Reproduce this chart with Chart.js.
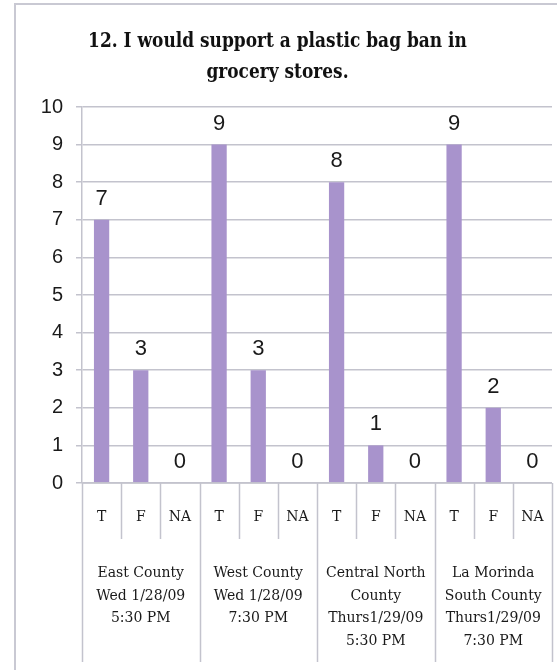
<!DOCTYPE html>
<html>
<head>
<meta charset="utf-8">
<script src="https://cdn.jsdelivr.net/npm/chart.js@4"></script>
<style>
html,body{margin:0;padding:0;background:#fff;}
#wrap{position:relative;width:557px;height:670px;}
</style>
</head>
<body>
<div id="wrap"><canvas id="c" width="557" height="670"></canvas></div>
<script>
const titleLines = ["12. I would support a plastic bag ban in", "grocery stores."];
const categories = ["T","F","NA","T","F","NA","T","F","NA","T","F","NA"];
const values = [7,3,0,9,3,0,8,1,0,9,2,0];
const groups = [
  ["East County","Wed 1/28/09","5:30 PM"],
  ["West County","Wed 1/28/09","7:30 PM"],
  ["Central North","County","Thurs1/29/09","5:30 PM"],
  ["La Morinda","South County","Thurs1/29/09","7:30 PM"]
];
const groupSize = 3;
const yTicks = [0,1,2,3,4,5,6,7,8,9,10];

const lineColor = '#c3c3cd';
const serif = '"DejaVu Serif", serif';
const sans = '"Liberation Sans", Arial, sans-serif';

const decor = {
  id: 'decor',
  beforeDraw(chart) {
    const ctx = chart.ctx;
    ctx.save();
    ctx.fillStyle = '#fff';
    ctx.fillRect(0,0,chart.width,chart.height);
    ctx.strokeStyle = '#c9c9d3';
    ctx.lineWidth = 2;
    ctx.beginPath();
    ctx.moveTo(15, chart.height);
    ctx.lineTo(15, 4);
    ctx.lineTo(chart.width, 4);
    ctx.stroke();
    ctx.fillStyle = '#111';
    ctx.font = 'bold 17px ' + serif;
    ctx.textAlign = 'center';
    ctx.textBaseline = 'alphabetic';
    const cx = chart.width / 2 - 1;
    titleLines.forEach((t, i) => {
      ctx.save();
      ctx.translate(cx, 47 + i * 31);
      ctx.scale(1, 1.15);
      ctx.fillText(t, 0, 0);
      ctx.restore();
    });
    ctx.restore();
  },
  afterDraw(chart) {
    const ctx = chart.ctx;
    const x = chart.scales.x;
    const area = chart.chartArea;
    const n = categories.length;
    const edge = i => {
      if (i === 0) return area.left;
      if (i === n) return area.right;
      return (x.getPixelForValue(i - 1) + x.getPixelForValue(i)) / 2;
    };
    ctx.save();
    ctx.strokeStyle = lineColor;
    ctx.lineWidth = 1.5;
    ctx.beginPath();
    ctx.moveTo(area.left, area.bottom);
    ctx.lineTo(area.right, area.bottom);
    ctx.stroke();
    for (let i = 0; i <= n; i++) {
      const px = Math.round(edge(i)) + 0.5;
      const isGroup = i % groupSize === 0;
      ctx.beginPath();
      ctx.moveTo(px, area.bottom);
      ctx.lineTo(px, isGroup ? area.bottom + 179 : area.bottom + 56);
      ctx.stroke();
    }
    ctx.fillStyle = '#1a1a1a';
    ctx.textAlign = 'center';
    ctx.textBaseline = 'alphabetic';
    ctx.font = '14px ' + serif;
    categories.forEach((c, i) => {
      ctx.fillText(c, x.getPixelForValue(i), area.bottom + 38);
    });
    groups.forEach((g, gi) => {
      const cx = (edge(gi * groupSize) + edge((gi + 1) * groupSize)) / 2;
      g.forEach((line, li) => {
        ctx.fillText(line, cx, area.bottom + 94 + li * 22.7);
      });
    });
    const meta = chart.getDatasetMeta(0);
    ctx.font = '22px ' + sans;
    meta.data.forEach((bar, i) => {
      ctx.fillText(String(values[i]), bar.x, bar.y - 15);
    });
    ctx.restore();
  }
};

new Chart(document.getElementById('c'), {
  type: 'bar',
  data: {
    labels: categories,
    datasets: [{
      data: values,
      backgroundColor: '#a893cc',
      borderWidth: 0,
      barPercentage: 0.78,
      categoryPercentage: 0.5
    }]
  },
  options: {
    responsive: false,
    animation: false,
    devicePixelRatio: 1,
    layout: { padding: { top: 107, right: 5, left: 0, bottom: 0 } },
    plugins: { legend: { display: false }, title: { display: false }, tooltip: { enabled: false } },
    scales: {
      x: {
        grid: { display: false },
        border: { display: false },
        ticks: { display: false },
        afterFit(s) { s.height = 187; }
      },
      y: {
        min: 0, max: 10,
        afterBuildTicks(s) { s.ticks = yTicks.map(v => ({ value: v })); },
        afterFit(s) { s.width = 82; },
        grid: { color: lineColor, lineWidth: 1.5, tickLength: 6 },
        border: { color: lineColor, width: 1.5 },
        ticks: { font: { family: sans, size: 20 }, color: '#1a1a1a', padding: 13 }
      }
    }
  },
  plugins: [decor]
});
</script>
</body>
</html>
